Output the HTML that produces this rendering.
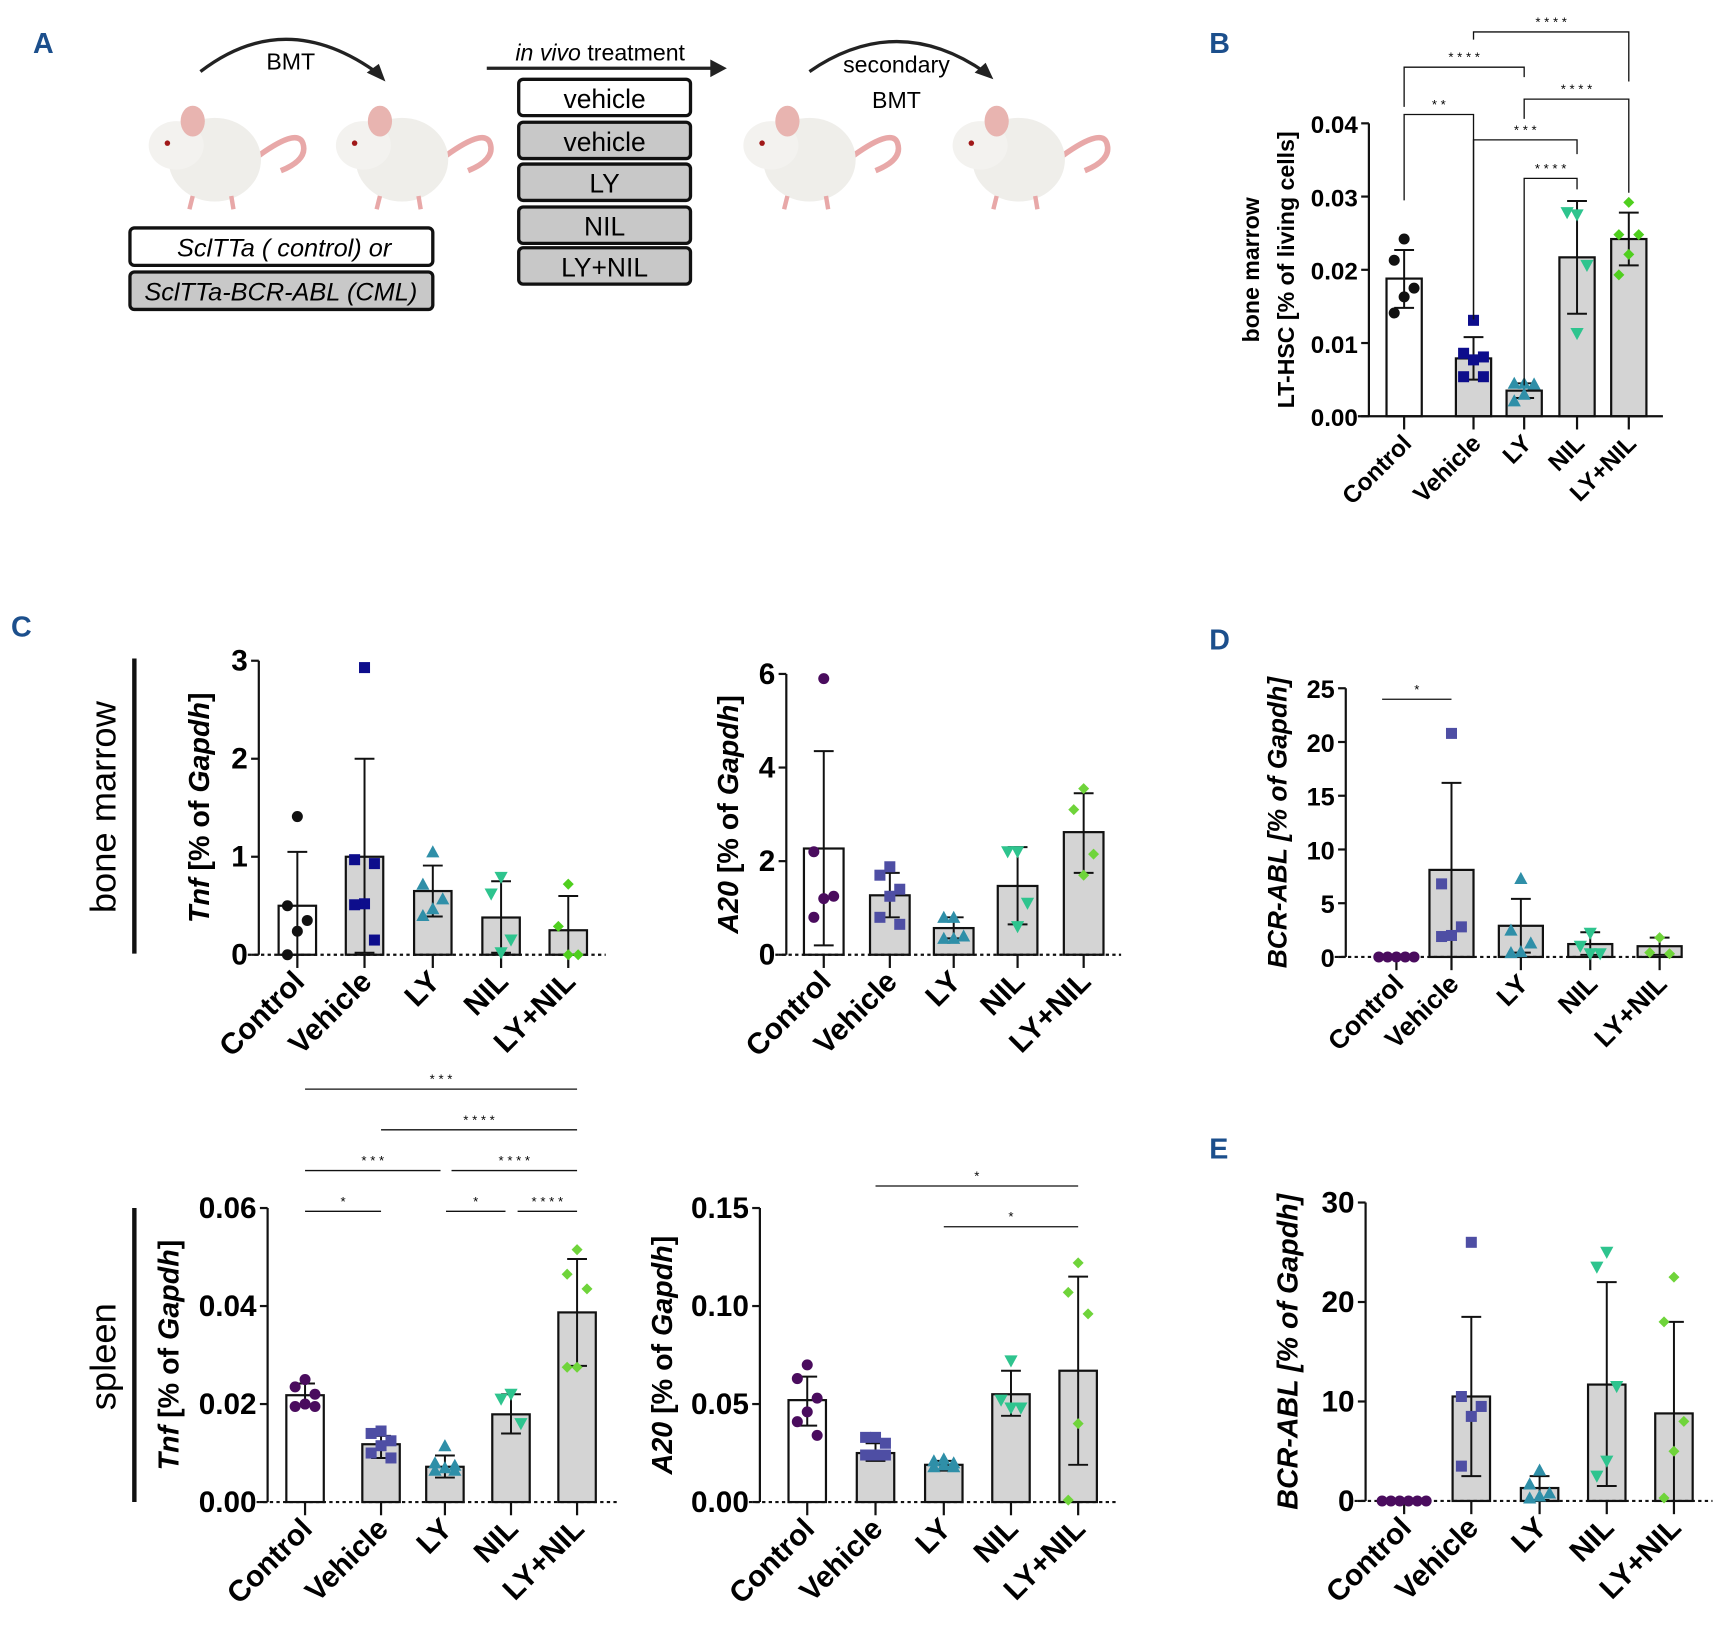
<!DOCTYPE html>
<html><head><meta charset="utf-8"><style>
html,body{margin:0;padding:0;background:#fff}
svg{display:block;font-family:"Liberation Sans",Arial,sans-serif}
</style></head><body>
<svg id="fig" width="1718" height="1632" viewBox="0 0 1560 1482" preserveAspectRatio="none" xmlns="http://www.w3.org/2000/svg">
<rect width="1560" height="1482" fill="#fff"/>
<g>
<text x="30" y="48" font-size="26" font-weight="bold" fill="#1c4f8c">A</text>
<path d="M182,65 Q260,5 345,68" fill="none" stroke="#222" stroke-width="3"/>
<polygon points="350,74 333,66 344,58" fill="#222"/>
<text x="264" y="63" font-size="21" text-anchor="middle">BMT</text>
<line x1="442" y1="62" x2="648" y2="62" stroke="#222" stroke-width="3"/>
<polygon points="660,62 645,54 645,70" fill="#222"/>
<text x="545" y="55" font-size="21" text-anchor="middle"><tspan font-style="italic">in vivo</tspan> treatment</text>
<path d="M735,65 Q815,10 895,66" fill="none" stroke="#222" stroke-width="3"/>
<polygon points="902,72 885,66 895,57" fill="#222"/>
<text x="814" y="66" font-size="21" text-anchor="middle">secondary</text>
<text x="814" y="98" font-size="21" text-anchor="middle">BMT</text>
<g id="mice"></g>
<rect x="118" y="207" width="275" height="34" rx="4" fill="#fff" stroke="#111" stroke-width="3"/>
<text x="258" y="233" font-size="23" font-style="italic" text-anchor="middle">SclTTa ( control) or</text>
<rect x="118" y="247" width="275" height="34" rx="4" fill="#c8c8c8" stroke="#111" stroke-width="3"/>
<text x="255" y="273" font-size="23" font-style="italic" text-anchor="middle">SclTTa-BCR-ABL (CML)</text>
<g id="tboxes"></g>
</g>
<g id="charts"></g>
<text x="1098" y="48" font-size="26" font-weight="bold" fill="#1c4f8c">B</text>
<text x="10" y="578" font-size="26" font-weight="bold" fill="#1c4f8c">C</text>
<text x="1098" y="590" font-size="26" font-weight="bold" fill="#1c4f8c">D</text>
<text x="1098" y="1052" font-size="26" font-weight="bold" fill="#1c4f8c">E</text>
<line x1="122" y1="598" x2="122" y2="866" stroke="#111" stroke-width="4"/>
<text transform="translate(105,733) rotate(-90)" font-size="33" text-anchor="middle">bone marrow</text>
<line x1="122" y1="1097" x2="122" y2="1364" stroke="#111" stroke-width="4"/>
<text transform="translate(105,1232) rotate(-90)" font-size="33" text-anchor="middle">spleen</text>
</svg>
<script>
const NS="http://www.w3.org/2000/svg";
function el(tag,attrs,parent){const e=document.createElementNS(NS,tag);for(const k in attrs)e.setAttribute(k,attrs[k]);if(parent)parent.appendChild(e);return e;}
const mg=document.getElementById('mice');
[[200,140],[370,140],[740,140],[930,140]].forEach(([cx,cy],i)=>{
 const g=el('g',{},mg);
 
 
 el('path',{d:`M${cx+30},${cy+5} q40,-30 45,-15 q5,15 -20,25`,fill:'none',stroke:'#e8a8a8','stroke-width':5},g);
 el('ellipse',{cx:cx-5,cy:cy+5,rx:42,ry:38,fill:'#efeeea'},g);
 el('ellipse',{cx:cx-40,cy:cy-8,rx:25,ry:22,fill:'#f3f2ef'},g);
 el('ellipse',{cx:cx-25,cy:cy-30,rx:11,ry:14,fill:'#e8b4b0'},g);
 el('circle',{cx:cx-48,cy:cy-10,r:2.5,fill:'#a01818'},g);
 el('line',{x1:cx-25,y1:cy+38,x2:cx-28,y2:cy+50,stroke:'#e8a8a8','stroke-width':4},g);
 el('line',{x1:cx+10,y1:cy+38,x2:cx+12,y2:cy+50,stroke:'#e8a8a8','stroke-width':4},g);
});
const tb=document.getElementById('tboxes');
[['vehicle',72,'#fff'],['vehicle',111,'#c8c8c8'],['LY',149,'#c8c8c8'],['NIL',188,'#c8c8c8'],['LY+NIL',225,'#c8c8c8']].forEach(([t,y,f])=>{
 const r=el('rect',{x:471,y:y,width:156,height:33,rx:4,fill:f,stroke:'#111','stroke-width':3},tb);
 
 
 el('text',{x:549,y:y+26,'font-size':24,'text-anchor':'middle'},tb).textContent=t;
});

const categories=["Control","Vehicle","LY","NIL","LY+NIL"];
const bMeans=[0.0188,0.0079,0.0035,0.0217,0.0242];
const bLow=[0.0148,0.0050,0.0025,0.0140,0.0206];
const bHigh=[0.0227,0.0108,0.0045,0.0294,0.0278];
const bPoints=[[0.0242,0.0213,0.0175,0.0163,0.0141],[0.0131,0.0086,0.0081,0.0077,0.0054,0.0054],[0.0045,0.0045,0.0044,0.0030,0.0021],[0.0275,0.0278,0.0206,0.0113],[0.0292,0.0248,0.0248,0.0221,0.0193]];
const bTicks=["0.00","0.01","0.02","0.03","0.04"];
const tnfBmMeans=[0.50,1.00,0.65,0.38,0.25];
const tnfBmLow=[0,0.02,0.39,0.02,0];
const tnfBmHigh=[1.05,2.00,0.91,0.75,0.60];
const tnfBmPoints=[[1.41,0.50,0.35,0.24,0.0],[2.93,0.97,0.93,0.52,0.51,0.15],[1.05,0.72,0.57,0.47,0.40],[0.79,0.62,0.15,0.02],[0.72,0.29,0.0,0.0]];
const tnfBmTicks=["0","1","2","3"];
const a20BmMeans=[2.27,1.27,0.57,1.47,2.62];
const a20BmLow=[0.2,0.8,0.35,0.65,1.75];
const a20BmHigh=[4.35,1.75,0.8,2.3,3.45];
const a20BmPoints=[[5.9,2.2,1.25,1.2,0.8],[1.88,1.7,1.4,1.25,0.8,0.65],[0.8,0.8,0.4,0.35,0.35],[2.2,2.2,1.1,0.6],[3.55,3.1,2.15,1.7]];
const a20BmTicks=["0","2","4","6"];
const dMeans=[0,8.1,2.9,1.2,1.0];
const dLow=[0,0,0.4,0.2,0.2];
const dHigh=[0,16.2,5.4,2.3,1.8];
const dPoints=[[0,0,0,0,0],[20.8,6.8,2.8,2.0,1.9],[7.3,2.5,1.3,0.5,0.4],[2.2,1.0,0.3,0.3],[1.8,0.4,0.3]];
const dTicks=["0","5","10","15","20","25"];
const tnfSpMeans=[0.0218,0.0118,0.0072,0.0179,0.0387];
const tnfSpLow=[0.0196,0.009,0.005,0.014,0.0278];
const tnfSpHigh=[0.0242,0.0135,0.0095,0.022,0.0496];
const tnfSpPoints=[[0.025,0.0235,0.022,0.02,0.0195,0.0195],[0.0145,0.014,0.0125,0.0115,0.01,0.009],[0.0115,0.008,0.0075,0.007,0.0065,0.0065],[0.022,0.021,0.016],[0.0515,0.0465,0.0435,0.0275,0.0275]];
const tnfSpTicks=["0.00","0.02","0.04","0.06"];
const a20SpMeans=[0.052,0.025,0.019,0.055,0.067];
const a20SpLow=[0.039,0.021,0.016,0.044,0.019];
const a20SpHigh=[0.064,0.030,0.021,0.067,0.115];
const a20SpPoints=[[0.07,0.063,0.053,0.046,0.041,0.034],[0.033,0.033,0.030,0.024,0.024,0.024],[0.022,0.021,0.020,0.019,0.018,0.018],[0.072,0.052,0.048,0.048],[0.122,0.107,0.096,0.040,0.001]];
const a20SpTicks=["0.00","0.05","0.10","0.15"];
const eMeans=[0,10.5,1.3,11.7,8.8];
const eLow=[0,2.5,0.1,1.5,0];
const eHigh=[0,18.5,2.5,22,18];
const ePoints=[[0,0,0,0,0,0],[26,10.5,9.5,8.5,3.5],[3.1,1.7,0.8,0.5,0.3],[25,23.5,11.5,4,2.5],[22.5,18,8,5,0.3]];
const eTicks=["0","10","20","30"];

const COLS_A=['#111','#0d0d8c','#2f8fa8','#2ec48e','#4fcf1e'];
const COLS_B=['#4a0c5e','#4e4ea4','#2f8fa8','#2ec48e','#6fd43a'];
const SHAPES=['circle','square','tri','tridown','diamond'];

function chart(o){
 const g=el('g',{},document.getElementById('charts'));
 
 
 const vmax=o.max, y0=o.y0, y1=o.y1;
 const Y=v=>y0-(v/vmax)*(y0-y1);
 const X=i=>o.xs[i];
 o.means.forEach((m,i)=>{
  if(m<=0)return;
  const r=el('rect',{x:X(i)-o.bw/2,y:Y(m),width:o.bw,height:y0-Y(m),fill:i==0?'#fff':'#d4d4d4',stroke:'#111','stroke-width':2},g);
  
  
 });
 el('line',{x1:o.ax,y1:y1,x2:o.ax,y2:y0,stroke:'#111','stroke-width':2},g);
 el('line',{x1:o.ax-10,y1:y0,x2:o.xend,y2:y0,stroke:'#111','stroke-width':2,'stroke-dasharray':o.dotted?'3,3':'none'},g);
 o.ticks.forEach((t,i)=>{
  const v=parseFloat(t), yy=Y(v);
  el('line',{x1:o.ax-7,y1:yy,x2:o.ax,y2:yy,stroke:'#111','stroke-width':2},g);
  const tx=el('text',{x:o.ax-10,y:yy+9,'font-size':o.tfs||27,'font-weight':'bold','text-anchor':'end'},g);
  tx.textContent=t;
  
  
 });
 categories.forEach((c,i)=>{
  el('line',{x1:X(i),y1:y0,x2:X(i),y2:y0+12,stroke:'#111','stroke-width':2},g);
  const tx=el('text',{transform:`translate(${X(i)+8},${y0+26}) rotate(-45)`,'font-size':o.lfs||27,'font-weight':'bold','text-anchor':'end'},g);
  tx.textContent=c;
  
  
 });
 o.means.forEach((m,i)=>{
  if(o.high[i]<=0)return;
  const x=X(i);
  el('line',{x1:x,y1:Y(o.high[i]),x2:x,y2:Y(o.low[i]),stroke:'#111','stroke-width':1.8},g);
  el('line',{x1:x-9,y1:Y(o.high[i]),x2:x+9,y2:Y(o.high[i]),stroke:'#111','stroke-width':1.8},g);
  el('line',{x1:x-9,y1:Y(o.low[i]),x2:x+9,y2:Y(o.low[i]),stroke:'#111','stroke-width':1.8},g);
 });
 o.points.forEach((arr,i)=>{
  const col=o.cols[i], n=arr.length;
  const allZero=arr.every(v=>v===0);
  arr.forEach((v,j)=>{
   let x;
   if(allZero) x=X(i)+(j-(n-1)/2)*8;
   else x=X(i)+[0,-9,9,0,-9,9][j%6];
   const y=Y(v), s=5;
   let p;
   const sh=SHAPES[i];
   if(sh==='circle')p=el('circle',{cx:x,cy:y,r:s},g);
   else if(sh==='square')p=el('rect',{x:x-s,y:y-s,width:2*s,height:2*s},g);
   else if(sh==='tri')p=el('polygon',{points:`${x},${y-s-1} ${x-s-1},${y+s} ${x+s+1},${y+s}`},g);
   else if(sh==='tridown')p=el('polygon',{points:`${x},${y+s+1} ${x-s-1},${y-s} ${x+s+1},${y-s}`},g);
   else p=el('polygon',{points:`${x},${y-s} ${x+s},${y} ${x},${y+s} ${x-s},${y}`},g);
   p.setAttribute('fill',col);
   
   
  });
 });
 const yt=el('text',{transform:`translate(${o.ytx},${(y0+y1)/2}) rotate(-90)`,'font-size':o.yfs||26,'font-weight':'bold','text-anchor':'middle'},g);
 yt.innerHTML=o.ytitle;
 
 
 if(o.ytitle2){
  const y2=el('text',{transform:`translate(${o.ytx2},${(y0+y1)/2}) rotate(-90)`,'font-size':o.yfs||26,'font-weight':'bold','text-anchor':'middle'},g);
  y2.textContent=o.ytitle2;
  
  
 }
 (o.sig||[]).forEach(s=>{
  const [a,b,yy,lab,la,lb]=s;
  if(o.brackets){
   el('path',{d:`M${X(a)},${la} V${yy} H${X(b)} V${lb}`,fill:'none',stroke:'#111','stroke-width':1.2},g);
  }else{
   el('line',{x1:s[6]||X(a),y1:yy,x2:s[7]||X(b),y2:yy,stroke:'#111','stroke-width':1.2},g);
  }
  const t=el('text',{x:((s[6]||X(a))+(s[7]||X(b)))/2,y:yy-5,'font-size':12,'text-anchor':'middle'},g);
  t.textContent=lab;
  
  
 });
}
const IT=t=>`<tspan font-style="italic">${t}</tspan>`;
chart({name:'chart-b-lt-hsc',means:bMeans,low:bLow,high:bHigh,points:bPoints,ticks:bTicks,max:0.04,y0:378,y1:112,ax:1243,xend:1510,xs:[1275,1338,1384,1432,1479],bw:32,cols:COLS_A,tfs:22,lfs:22,yfs:21,ytx:1175,ytitle:'LT-HSC [% of living cells]',ytx2:1143,ytitle2:'bone marrow',brackets:true,
 sig:[[0,1,104,'* *',182,290],[0,2,61,'* * * *',97,70],[1,4,29,'* * * *',36,74],[2,4,90,'* * * *',108,175],[1,3,127,'* * *',290,140],[2,3,162,'* * * *',350,172]]});
chart({name:'chart-c-tnf-bone-marrow',means:tnfBmMeans,low:tnfBmLow,high:tnfBmHigh,points:tnfBmPoints,ticks:tnfBmTicks,max:3,y0:867,y1:600,ax:235,xend:550,xs:[270,331,393,455,516],bw:34,cols:COLS_A,dotted:true,ytx:190,ytitle:IT('Tnf')+' [% of '+IT('Gapdh')+']'});
chart({name:'chart-c-a20-bone-marrow',means:a20BmMeans,low:a20BmLow,high:a20BmHigh,points:a20BmPoints,ticks:a20BmTicks,max:6,y0:867,y1:612,ax:714,xend:1018,xs:[748,808,866,924,984],bw:36,cols:COLS_B,dotted:true,ytx:670,ytitle:IT('A20 ')+'[% of '+IT('Gapdh')+']'});
chart({name:'chart-d-bcr-abl-bone-marrow',means:dMeans,low:dLow,high:dHigh,points:dPoints,ticks:dTicks,max:25,y0:869,y1:625,ax:1222,xend:1530,xs:[1268,1318,1381,1444,1507],bw:40,cols:COLS_B,dotted:true,tfs:23,lfs:24,yfs:24,ytx:1168,ytitle:IT('BCR-ABL [% of Gapdh]'),
 sig:[[0,1,635,'*',0,0,1255,1318]]});
chart({name:'chart-c-tnf-spleen',means:tnfSpMeans,low:tnfSpLow,high:tnfSpHigh,points:tnfSpPoints,ticks:tnfSpTicks,max:0.06,y0:1364,y1:1097,ax:243,xend:560,xs:[277,346,404,464,524],bw:34,cols:COLS_B,dotted:true,ytx:162,ytitle:IT('Tnf')+' [% of '+IT('Gapdh')+']',
 sig:[[0,4,989,'* * *'],[1,4,1026,'* * * *'],[0,2,1063,'* * *',0,0,277,400],[2,4,1063,'* * * *',0,0,410,524],[0,1,1100,'*'],[2,3,1100,'*',0,0,405,459],[3,4,1100,'* * * *',0,0,470,524]]});
chart({name:'chart-c-a20-spleen',means:a20SpMeans,low:a20SpLow,high:a20SpHigh,points:a20SpPoints,ticks:a20SpTicks,max:0.15,y0:1364,y1:1097,ax:690,xend:1015,xs:[733,795,857,918,979],bw:34,cols:COLS_B,dotted:true,ytx:610,ytitle:IT('A20')+' [% of '+IT('Gapdh')+']',
 sig:[[1,4,1077,'*'],[2,4,1114,'*']]});
chart({name:'chart-e-bcr-abl-spleen',means:eMeans,low:eLow,high:eHigh,points:ePoints,ticks:eTicks,max:30,y0:1363,y1:1092,ax:1240,xend:1555,xs:[1275,1336,1398,1459,1520],bw:34,cols:COLS_B,dotted:true,ytx:1178,ytitle:IT('BCR-ABL [% of Gapdh]')});
</script>
</body></html>
